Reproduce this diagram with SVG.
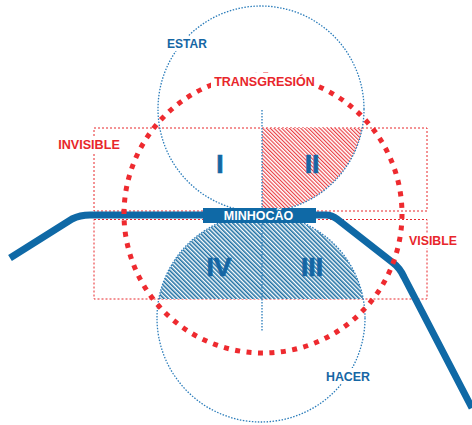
<svg xmlns="http://www.w3.org/2000/svg" width="472" height="425" viewBox="0 0 472 425">
  <style>
    .frame { fill: none; stroke: #e8262b; stroke-width: 1; stroke-dasharray: 2 2; }
    .dot { fill: none; stroke: #2a7cba; stroke-width: 1.3; stroke-dasharray: 1.5 1.5; }
    .road { fill: none; stroke: #0f69a6; stroke-width: 7; stroke-linejoin: round; }
    .ring { fill: none; stroke: #ee2a2f; stroke-width: 5; stroke-dasharray: 5 6.49; }
    .lbl { font-family: "Liberation Sans", Arial, sans-serif; font-weight: bold; text-anchor: middle; }
    .red { fill: #e8262b; }
    .blue { fill: #1566a4; }
    .num { font-size: 26.5px; fill: #1566a4; stroke: #1566a4; stroke-width: 0.7; }
    .bg { fill: #ffffff; }
  </style>
  <defs>
    <pattern id="hatchRed" patternUnits="userSpaceOnUse" width="2.7" height="2.7" patternTransform="rotate(-45)">
      <rect width="2.7" height="2.7" fill="#ffffff"/>
      <line x1="0.6" y1="0" x2="0.6" y2="2.7" stroke="#e8262b" stroke-width="1"/>
    </pattern>
    <pattern id="hatchBlue" patternUnits="userSpaceOnUse" width="3" height="3" patternTransform="rotate(-45)">
      <rect width="3" height="3" fill="#ffffff"/>
      <line x1="0.8" y1="0" x2="0.8" y2="3" stroke="#14699f" stroke-width="1.5"/>
    </pattern>
  </defs>

  <!-- visibility bands -->
  <g id="invisible">
    <rect class="frame" x="94" y="128" width="333" height="83"/>
  </g>
  <g id="visible">
    <rect class="frame" x="94" y="219.5" width="333" height="79.5"/>
  </g>

  <!-- quadrant fills -->
  <g id="quadrant-II">
    <path d="M262,128 L362.2,128 A103,103 0 0 1 262,212 Z" fill="url(#hatchRed)"/>
  </g>
  <g id="quadrants-III-IV">
    <path d="M158.8,299 A104,104 0 0 1 363.2,299 Z" fill="url(#hatchBlue)"/>
  </g>

  <!-- estar / hacer circles and axis -->
  <g id="estar">
    <circle class="dot" cx="261" cy="109" r="103"/>
  </g>
  <g id="hacer">
    <circle class="dot" cx="261" cy="318" r="104"/>
  </g>
  <g id="axis">
    <line class="dot" x1="262" y1="110" x2="262" y2="332"/>
  </g>

  <!-- connectors: the road on both sides of the viaduct -->
  <g id="connectors">
    <path class="road" d="M10,258 L72,219 Q80,215 90,215 L205,215"/>
    <path class="road" d="M314,215 L326,215 Q332,215 337,219 L392,262 Q400,268 404,277 L472,408"/>
  </g>

  <!-- viaduct -->
  <g id="minhocao">
    <rect x="203" y="208" width="113" height="15" fill="#0f69a6"/>
    <text class="lbl" x="258.5" y="220" font-size="12.5" fill="#ffffff">MINHOCÃO</text>
  </g>

  <!-- transgression ring -->
  <g id="transgresion">
    <circle class="ring" cx="263" cy="214" r="139"/>
    <rect class="bg" x="211" y="73" width="106" height="16"/>
    <text class="lbl red" x="264.5" y="86" font-size="12.5">TRANSGRESIÓN</text>
  </g>

  <!-- labels -->
  <g id="label-estar">
    <rect class="bg" x="164" y="36" width="46" height="15"/>
    <text class="lbl blue" x="187" y="48" font-size="12">ESTAR</text>
  </g>
  <g id="label-hacer">
    <rect class="bg" x="324" y="368" width="48" height="16"/>
    <text class="lbl blue" x="348" y="381" font-size="12.4">HACER</text>
  </g>
  <g id="label-invisible">
    <rect class="bg" x="56" y="137" width="66" height="15"/>
    <text class="lbl red" x="89" y="149" font-size="12.6">INVISIBLE</text>
  </g>
  <g id="label-visible">
    <rect class="bg" x="407" y="233" width="52" height="15"/>
    <text class="lbl red" x="433" y="245" font-size="12.3">VISIBLE</text>
  </g>

  <!-- quadrant numerals -->
  <g id="num-I"><text class="lbl num" x="220" y="173">I</text></g>
  <g id="num-II"><text class="lbl num" x="312" y="173">II</text></g>
  <g id="num-III"><text class="lbl num" x="312" y="276">III</text></g>
  <g id="num-IV"><text class="lbl num" x="219" y="276">IV</text></g>
</svg>
